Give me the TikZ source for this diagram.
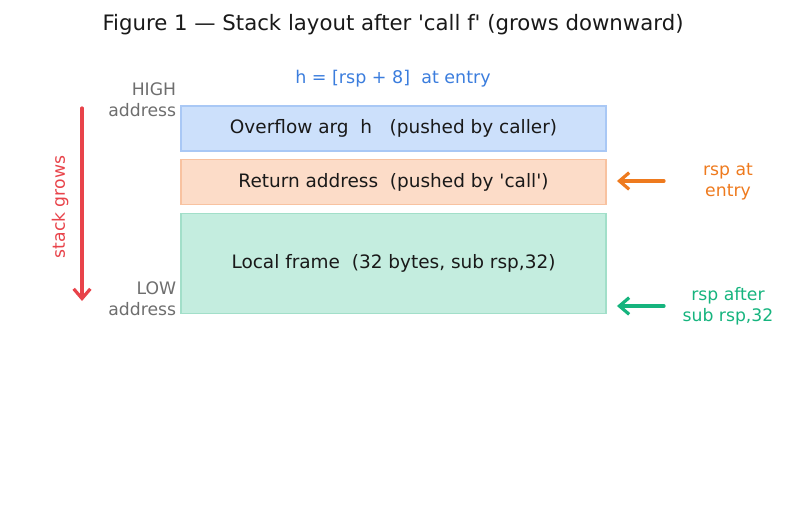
\documentclass[tikz,border=0pt]{standalone}
\usepackage{fontspec}
\setmainfont{DejaVu Sans}
\usetikzlibrary{arrows.meta,positioning}
\definecolor{argfill}{HTML}{CCE0FB}
\definecolor{argline}{HTML}{A9C8F5}
\definecolor{retfill}{HTML}{FCDCC8}
\definecolor{retline}{HTML}{F8C2A0}
\definecolor{locfill}{HTML}{C4EDDF}
\definecolor{locline}{HTML}{A2DFC9}
\definecolor{hintblue}{HTML}{3B7DDD}
\definecolor{addrgray}{HTML}{6E6E6E}
\definecolor{growred}{HTML}{E8434A}
\definecolor{entryorange}{HTML}{EE7A1E}
\definecolor{aftergreen}{HTML}{16B47E}

\begin{document}
\begin{tikzpicture}[
  x=0.72pt, y=-0.72pt,
  every node/.style={font=\fontsize{13.3}{15}\selectfont},
  box/.style={draw, line width=1.4pt, inner sep=0pt, minimum width=306pt, text=black!90},
  tag/.style={align=center, font=\fontsize{12.4}{15.1}\selectfont},
  ptr/.style={-{Straight Barb[length=7pt,width=12pt]}, line width=2.3pt, line cap=round}
]
\useasboundingbox (0,0) rectangle (787,508);
\node[font=\fontsize{15.3}{18}\selectfont, text=black!90] (title) at (393,24.5) {Figure 1 — Stack layout after \textquotesingle call f\textquotesingle\ (grows downward)};
\node[text=hintblue, font=\fontsize{12.6}{15}\selectfont] (hint) at (393,78.5) {h = [rsp + 8]\ \ at entry};
\node[box, fill=argfill, draw=argline, minimum height=32.4pt] (arg) at (393.5,128.5) {Overflow arg\ \ h\ \ \ (pushed by caller)};
\node[box, fill=retfill, draw=retline, minimum height=32.4pt] (ret) at (393.5,182) {Return address\ \ (pushed by \textquotesingle call\textquotesingle)};
\node[box, fill=locfill, draw=locline, minimum height=72pt] (loc) at (393.5,263.5) {Local frame\ \ (32 bytes, sub rsp,32)};
% address ends
\node[tag, text=addrgray, align=right, anchor=east] (high) at (181,100) {HIGH\\address};
\node[tag, text=addrgray, align=right, anchor=east] (low) at (181,299) {LOW\\address};
% growth direction
\coordinate (top) at (82,108);
\coordinate (bot) at (82,301);
\draw[ptr, growred] (top) -- (bot);
\node[tag, text=growred, rotate=90] (grows) at (60,207) {stack grows};
% stack pointer marks
\node[tag, text=entryorange] (ent) at (728,181.5) {rsp at\\entry};
\node[tag, text=aftergreen] (sub) at (728,306.5) {rsp after\\sub rsp,32};
\coordinate (entail) at (664,181);
\coordinate (subtail) at (664,306);
\draw[ptr, entryorange] (entail) -- ([xshift=7.2pt]ret.east |- entail);
\draw[ptr, aftergreen] (subtail) -- ([xshift=7.2pt]loc.east |- subtail);
\end{tikzpicture}
\end{document}
